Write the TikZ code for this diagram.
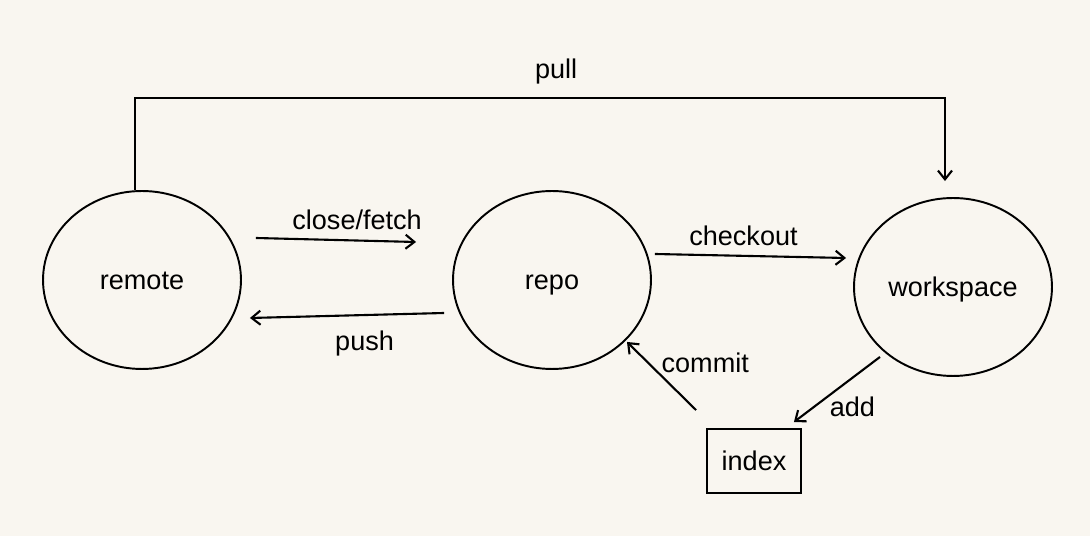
\documentclass[tikz,border=0pt]{standalone}
\usepackage{fontspec}
\setmainfont{Liberation Sans}
\usetikzlibrary{shapes.geometric, arrows.meta, positioning, calc}
\definecolor{paper}{HTML}{F9F6F0}
\tikzstyle{place} = [ellipse, draw, line width=1.1pt, text centered, inner sep=0pt, text height=2.5ex, text depth=0.4ex, minimum width=3.96cm, minimum height=3.56cm]
\tikzstyle{stage} = [rectangle, draw, line width=1.1pt, text centered, minimum width=1.88cm, minimum height=1.28cm]
\tikzstyle{arrow} = [line width=1.2pt,->,>={Straight Barb[length=5pt,width=8pt]}]

\begin{document}
\begin{tikzpicture}[x=0.02cm, y=-0.02cm, font=\fontsize{15.4}{18}\selectfont]
        \fill[paper] (0,0) rectangle (1090,536);
        \node[place] (remote) at (142,280) {remote};
        \node[place] (repo) at (552,280) {repo};
        \node[place] (workspace) at (953,287) {workspace};
        \node[stage] (index) at (754,461) {index};

        \draw[arrow] ($(remote.north)+(-7,0)$) -- ++(0,-92) -| ($(workspace.north)+(-8,-16)$)
            node[pos=0.26, above=4pt] {pull};
        \draw[arrow] ($(remote.east)+(14,-42)$) -- ($(repo.west)+(-36,-38)$)
            node[midway, above, xshift=12pt, yshift=2pt] {close/fetch};
        \draw[arrow] ($(repo.west)+(-8,33)$) -- ($(remote.east)+(8,38)$)
            node[midway, below, xshift=10pt, yshift=-5pt] {push};
        \draw[arrow] ($(repo.east)+(3,-26)$) -- ($(workspace.west)+(-7,-29)$)
            node[midway, above, xshift=-4pt, yshift=2pt] {checkout};
        \draw[arrow] ($(workspace.south)+(-73,-20)$) -- ($(index.north east)+(-8,-6)$)
            node[midway, below right, xshift=-8pt] {add};
        \draw[arrow] ($(index.north west)+(-10,-18)$) -- ($(repo.south)+(75,-28)$)
            node[pos=0.7, right, xshift=4pt] {commit};
    \end{tikzpicture}
\end{document}
